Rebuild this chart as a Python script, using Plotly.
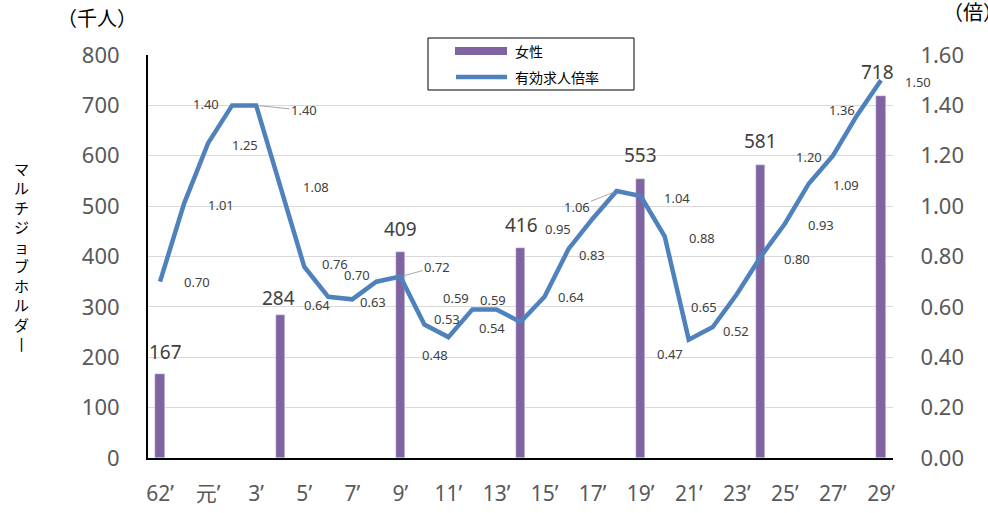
import plotly.graph_objects as go

# ---- data ----
years = ["62", "63", "元"] + [str(i) for i in range(2, 30)]  # S62 .. H29 (31 years)
tick_idx = list(range(0, len(years), 2))
tick_text = [years[i] + "’" for i in tick_idx]

bar_years = ["62", "4", "9", "14", "19", "24", "29"]
bar_values = [167, 284, 409, 416, 553, 581, 718]

ratio = [0.70, 1.01, 1.25, 1.40, 1.40, 1.08, 0.76, 0.64, 0.63, 0.70,
         0.72, 0.53, 0.48, 0.59, 0.59, 0.54, 0.64, 0.83, 0.95, 1.06,
         1.04, 0.88, 0.47, 0.52, 0.65, 0.80, 0.93, 1.09, 1.20, 1.36, 1.50]

y_title_chars = list("マルチジョブホルダ") + ["丨"]

# label offsets (pixels, dx right, dy down) for line data labels
label_dx = [37, 37, 37, -26, 48, 36, 31, -11, 21, -19,
            37, 23, -13, -16, -3, -29, 26, 23, -35, -40,
            36, 37, -19, 23, -33, 36, 36, 37, -24, -15, 37]
label_dy = [0, 1, 2, -1, 5, 1, -3, 8, 3, -7,
            -10, -6, 18, -11, -9, 6, 0, 6, 10, 16,
            2, 2, 14, 4, 13, 2, 1, 2, 1, -5, 2]
leader_idx = {4, 10, 19}
bar_label_up = [22, 17, 23, 23, 24, 24, 24]
bar_label_dx = [5, -2, 0, 1, 0, 0, -3]

FONT = "Noto Sans, Noto Sans CJK JP, sans-serif"
JFONT = "Noto Sans CJK JP, Noto Sans, sans-serif"
TXT = "#404040"
AX = "#595959"
BAR_C = "#8064A2"
LINE_C = "#4F81BD"

x_all = list(range(len(years)))
bar_x = [years.index(b) for b in bar_years]

fig = go.Figure()
fig.add_trace(go.Bar(
    x=bar_x, y=bar_values, name="女性", marker_color=BAR_C,
    width=0.38, showlegend=False, hoverinfo="skip",
))
fig.add_trace(go.Scatter(
    x=x_all, y=ratio, yaxis="y2", mode="lines", name="有効求人倍率",
    line=dict(color=LINE_C, width=4.5), showlegend=False, hoverinfo="skip",
))

annotations = []
for bx, bv, up, dx in zip(bar_x, bar_values, bar_label_up, bar_label_dx):
    annotations.append(dict(
        x=bx, y=bv, xref="x", yref="y", text=str(bv), showarrow=False,
        yanchor="middle", yshift=up, xshift=dx,
        font=dict(size=19, color=TXT, family=FONT),
    ))

for i, v in enumerate(ratio):
    if i in leader_idx:
        annotations.append(dict(
            x=i, y=v, xref="x", yref="y2", text=f"{v:.2f}",
            showarrow=True, arrowhead=0, arrowwidth=1, arrowcolor="#a6a6a6",
            ax=label_dx[i], ay=label_dy[i], standoff=3,
            font=dict(size=13, color=TXT, family=FONT),
        ))
    else:
        annotations.append(dict(
            x=i, y=v, xref="x", yref="y2", text=f"{v:.2f}", showarrow=False,
            xshift=label_dx[i], yshift=-label_dy[i],
            font=dict(size=13, color=TXT, family=FONT),
        ))


def px(X):
    return (X - 148) / 745


def py(Y):
    return (458 - Y) / 403


# axis titles
annotations.append(dict(x=px(97), y=py(18), xref="paper", yref="paper", text="（千人）",
                        showarrow=False, xanchor="center", yanchor="middle",
                        font=dict(size=20, color="#000000", family=JFONT)))
annotations.append(dict(x=px(941), y=py(11), xref="paper", yref="paper", text="（倍）",
                        showarrow=False, xanchor="left", yanchor="middle",
                        font=dict(size=20, color="#000000", family=JFONT)))
for k, ch in enumerate(y_title_chars):
    annotations.append(dict(x=px(21), y=py(168 + 19.5 * k), xref="paper", yref="paper",
                            text=ch, showarrow=False, xanchor="center", yanchor="middle",
                            font=dict(size=15, color="#000000", family=JFONT)))

# custom legend
shapes = [
    dict(type="rect", xref="paper", yref="paper", x0=px(428), x1=px(634), y0=py(90), y1=py(38),
         line=dict(color="#000000", width=1), fillcolor="white", layer="above"),
    dict(type="rect", xref="paper", yref="paper", x0=px(455), x1=px(507), y0=py(55), y1=py(47),
         line=dict(width=0), fillcolor=BAR_C, layer="above"),
    dict(type="line", xref="paper", yref="paper", x0=px(456), x1=px(507), y0=py(77), y1=py(77),
         line=dict(color=LINE_C, width=4.5), layer="above"),
]
annotations.append(dict(x=px(513), y=py(51), xref="paper", yref="paper", text="女性",
                        showarrow=False, xanchor="left", yanchor="middle",
                        font=dict(size=14, color="#000000", family=JFONT)))
annotations.append(dict(x=px(513), y=py(77), xref="paper", yref="paper", text="有効求人倍率",
                        showarrow=False, xanchor="left", yanchor="middle",
                        font=dict(size=14, color="#000000", family=JFONT)))

fig.update_layout(
    width=988, height=513,
    margin=dict(l=148, r=95, t=55, b=55),
    paper_bgcolor="white", plot_bgcolor="white",
    showlegend=False, bargap=0,
    xaxis=dict(range=[-0.5, len(years) - 0.5], tickmode="array", tickvals=tick_idx,
               ticktext=tick_text, tickangle=0, automargin=False,
               tickfont=dict(size=21, color=AX, family=FONT),
               showline=True, linecolor="#000000", linewidth=2, showgrid=False,
               ticks="outside", ticklen=16, tickcolor="rgba(0,0,0,0)", zeroline=False),
    yaxis=dict(range=[0, 800], dtick=100, tickfont=dict(size=22, color=AX, family=FONT),
               showline=True, linecolor="#000000", linewidth=2, automargin=False,
               showgrid=True, gridcolor="#d9d9d9", gridwidth=1, zeroline=False,
               ticks="outside", ticklen=22, tickcolor="rgba(0,0,0,0)"),
    yaxis2=dict(range=[0, 1.6], dtick=0.2, tickformat=".2f", overlaying="y", side="right",
                tickfont=dict(size=22, color=AX, family=FONT), showgrid=False, zeroline=False,
                automargin=False,
                showline=False, ticks="outside", ticklen=22, tickcolor="rgba(0,0,0,0)"),
    annotations=annotations,
    shapes=shapes,
)

fig.write_html("out.html", config={"displayModeBar": False},
               post_script="document.body.style.margin='0';")
